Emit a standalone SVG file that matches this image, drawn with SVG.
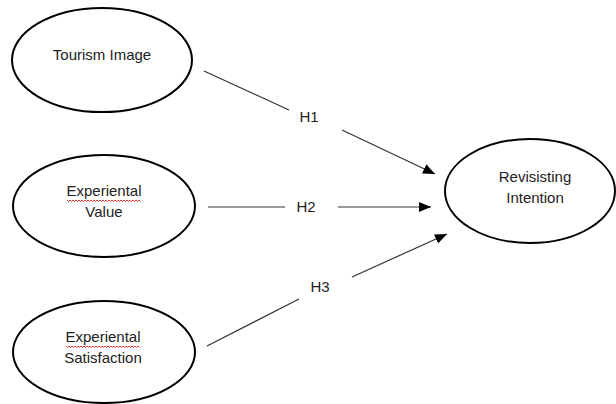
<svg xmlns="http://www.w3.org/2000/svg" width="616" height="404" viewBox="0 0 616 404">
<style>
.node ellipse{fill:#fff;stroke:#000;stroke-width:2}
.lbl{font-family:"Liberation Sans",Arial,sans-serif;font-size:15px;fill:#222;text-anchor:middle}
.con line{stroke:#333;stroke-width:1.2}
.sq{fill:none;stroke:#d22;stroke-width:0.9}
</style>
<defs>
<marker id="ah" markerWidth="12" markerHeight="10" refX="12" refY="5" orient="auto" markerUnits="userSpaceOnUse">
<path d="M0,0 L12,5 L0,10 Z" fill="#000"/>
</marker>
</defs>
<rect width="616" height="404" fill="#fff"/>
<g id="tourism-image" class="node">
<ellipse cx="102" cy="60" rx="90" ry="52"/>
<text class="lbl" x="102" y="60">Tourism Image</text>
</g>
<g id="experiental-value" class="node">
<ellipse cx="104" cy="206" rx="91" ry="51"/>
<text class="lbl" x="104" y="196">Experiental</text>
<text class="lbl" x="104" y="217">Value</text>
<path class="sq" d="M67,200 l1.5,1.5 l1.5,-1.5 l1.5,1.5 l1.5,-1.5 l1.5,1.5 l1.5,-1.5 l1.5,1.5 l1.5,-1.5 l1.5,1.5 l1.5,-1.5 l1.5,1.5 l1.5,-1.5 l1.5,1.5 l1.5,-1.5 l1.5,1.5 l1.5,-1.5 l1.5,1.5 l1.5,-1.5 l1.5,1.5 l1.5,-1.5 l1.5,1.5 l1.5,-1.5 l1.5,1.5 l1.5,-1.5 l1.5,1.5 l1.5,-1.5 l1.5,1.5 l1.5,-1.5 l1.5,1.5 l1.5,-1.5 l1.5,1.5 l1.5,-1.5 l1.5,1.5 l1.5,-1.5 l1.5,1.5 l1.5,-1.5 l1.5,1.5 l1.5,-1.5 l1.5,1.5 l1.5,-1.5 l1.5,1.5 l1.5,-1.5 l1.5,1.5 l1.5,-1.5 l1.5,1.5 l1.5,-1.5 l1.5,1.5 l1.5,-1.5 l1.5,1.5"/>
</g>
<g id="experiental-satisfaction" class="node">
<ellipse cx="104" cy="352" rx="91" ry="51"/>
<text class="lbl" x="103" y="342">Experiental</text>
<text class="lbl" x="103" y="363">Satisfaction</text>
<path class="sq" d="M66,346 l1.5,1.5 l1.5,-1.5 l1.5,1.5 l1.5,-1.5 l1.5,1.5 l1.5,-1.5 l1.5,1.5 l1.5,-1.5 l1.5,1.5 l1.5,-1.5 l1.5,1.5 l1.5,-1.5 l1.5,1.5 l1.5,-1.5 l1.5,1.5 l1.5,-1.5 l1.5,1.5 l1.5,-1.5 l1.5,1.5 l1.5,-1.5 l1.5,1.5 l1.5,-1.5 l1.5,1.5 l1.5,-1.5 l1.5,1.5 l1.5,-1.5 l1.5,1.5 l1.5,-1.5 l1.5,1.5 l1.5,-1.5 l1.5,1.5 l1.5,-1.5 l1.5,1.5 l1.5,-1.5 l1.5,1.5 l1.5,-1.5 l1.5,1.5 l1.5,-1.5 l1.5,1.5 l1.5,-1.5 l1.5,1.5 l1.5,-1.5 l1.5,1.5 l1.5,-1.5 l1.5,1.5 l1.5,-1.5 l1.5,1.5 l1.5,-1.5 l1.5,1.5"/>
</g>
<g id="revisiting-intention" class="node">
<ellipse cx="530" cy="191" rx="85" ry="52"/>
<text class="lbl" x="535" y="182">Revisisting</text>
<text class="lbl" x="535" y="203">Intention</text>
</g>
<g id="connectors" class="con">
<line x1="204" y1="71" x2="289" y2="110"/>
<line x1="342" y1="130" x2="435" y2="174" marker-end="url(#ah)"/>
<line x1="208" y1="207" x2="285" y2="207"/>
<line x1="338" y1="207" x2="431" y2="207" marker-end="url(#ah)"/>
<line x1="207" y1="346" x2="299" y2="299"/>
<line x1="352" y1="277" x2="447" y2="234" marker-end="url(#ah)"/>
<text class="lbl" x="309" y="122">H1</text>
<text class="lbl" x="306" y="212">H2</text>
<text class="lbl" x="320" y="292">H3</text>
</g>
</svg>
